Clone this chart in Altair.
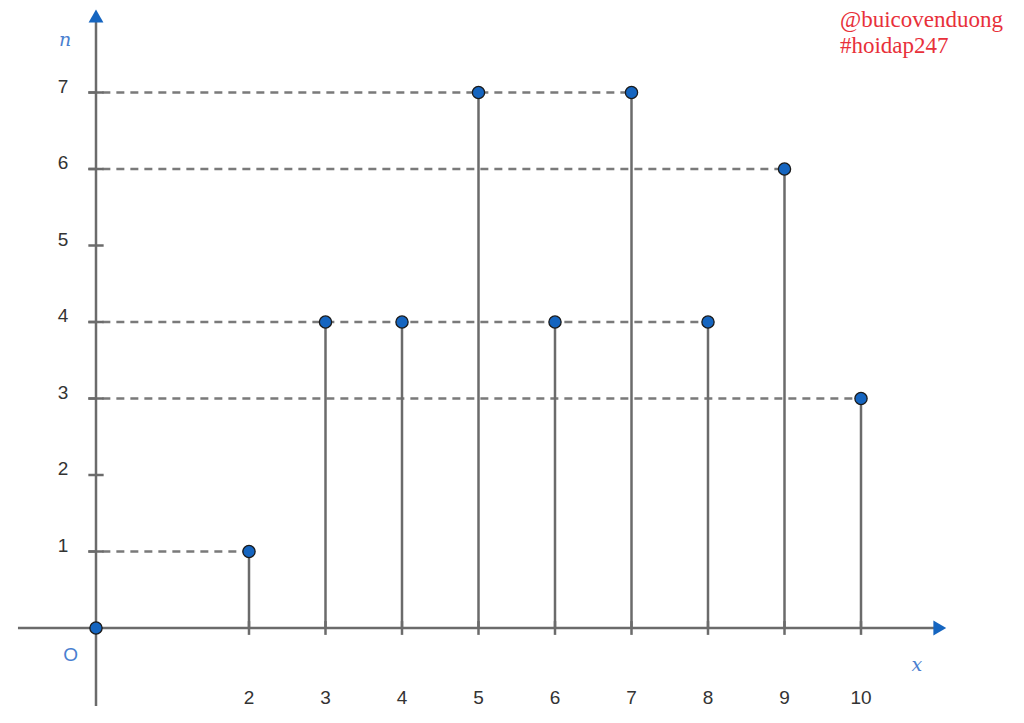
import altair as alt
import pandas as pd

# data
xs = [0, 2, 3, 4, 5, 6, 7, 8, 9, 10]
ns = [0, 1, 4, 4, 7, 4, 7, 4, 6, 3]
x_ticks = [2, 3, 4, 5, 6, 7, 8, 9, 10]
y_ticks = [1, 2, 3, 4, 5, 6, 7]

pts = pd.DataFrame({"x": xs, "n": ns})
# dashed guides: from the n-axis to the farthest point at each level
lv = pts[pts.n > 0].groupby("n", as_index=False)["x"].max()
lv["x0"] = -0.1

stems = pts[pts.n > 0].copy()
stems["z"] = 0

X = alt.Scale(domain=[-88 / 76.5, 920 / 76.5], nice=False, zero=False)
Y = alt.Scale(domain=[-87 / 76.5, 620 / 76.5], nice=False, zero=False)

GRAY = "#6b6b6b"
BLUE = "#1565c0"

dashed = alt.Chart(lv).mark_rule(color="#7a7a7a", strokeWidth=2.5, strokeDash=[8, 6]).encode(
    x=alt.X("x0:Q", scale=X, axis=None), x2="x:Q",
    y=alt.Y("n:Q", scale=Y, axis=None))

stem = alt.Chart(stems).mark_rule(color=GRAY, strokeWidth=2.5).encode(
    x=alt.X("x:Q", scale=X, axis=None),
    y=alt.Y("z:Q", scale=Y, axis=None), y2="n:Q")

axes_df = pd.DataFrame({"x1": [-1.02, 0], "x2": [11.0, 0], "y1": [0, -1.02], "y2": [0, 7.95]})
axes = alt.Chart(axes_df).mark_rule(color=GRAY, strokeWidth=2.5).encode(
    x=alt.X("x1:Q", scale=X, axis=None), x2="x2:Q",
    y=alt.Y("y1:Q", scale=Y, axis=None), y2="y2:Q")

xt = pd.DataFrame({"v": x_ticks, "a": -0.09, "b": 0.09})
xtick = alt.Chart(xt).mark_rule(color=GRAY, strokeWidth=2.5).encode(
    x=alt.X("v:Q", scale=X, axis=None),
    y=alt.Y("a:Q", scale=Y, axis=None), y2="b:Q")
yt = pd.DataFrame({"v": y_ticks, "a": -0.1, "b": 0.1})
ytick = alt.Chart(yt).mark_rule(color=GRAY, strokeWidth=2.5).encode(
    y=alt.Y("v:Q", scale=Y, axis=None),
    x=alt.X("a:Q", scale=X, axis=None), x2="b:Q")

arr_r = alt.Chart(pd.DataFrame({"x": [11.03], "y": [0]})).mark_point(
    shape="triangle-right", filled=True, color=BLUE, size=220, opacity=1).encode(
    x=alt.X("x:Q", scale=X, axis=None), y=alt.Y("y:Q", scale=Y, axis=None))
arr_u = alt.Chart(pd.DataFrame({"x": [0], "y": [8.0]})).mark_point(
    shape="triangle-up", filled=True, color=BLUE, size=220, opacity=1).encode(
    x=alt.X("x:Q", scale=X, axis=None), y=alt.Y("y:Q", scale=Y, axis=None))

dots = alt.Chart(pts).mark_point(filled=True, color=BLUE, stroke="#1a1a1a", strokeWidth=1.3,
                                 size=150, opacity=1).encode(
    x=alt.X("x:Q", scale=X, axis=None), y=alt.Y("n:Q", scale=Y, axis=None))

xl = pd.DataFrame({"v": x_ticks, "t": [str(v) for v in x_ticks], "yy": -0.915})
xlab = alt.Chart(xl).mark_text(font="Liberation Sans", fontSize=19, color="#333333",
                               align="center", baseline="middle").encode(
    x=alt.X("v:Q", scale=X, axis=None), y=alt.Y("yy:Q", scale=Y, axis=None), text="t:N")
yl = pd.DataFrame({"v": y_ticks, "t": [str(v) for v in y_ticks], "xx": -0.43})
ylab = alt.Chart(yl).mark_text(font="Liberation Sans", fontSize=19, color="#333333",
                               align="center", baseline="middle", dy=-6).encode(
    y=alt.Y("v:Q", scale=Y, axis=None), x=alt.X("xx:Q", scale=X, axis=None), text="t:N")

names = pd.DataFrame({"x": [-0.405, 10.73], "y": [7.69, -0.48], "t": ["n", "x"]})
namelab = alt.Chart(names).mark_text(font="DejaVu Serif", fontStyle="italic", fontSize=19,
                                     color="#4a7fd0", align="center", baseline="middle").encode(
    x=alt.X("x:Q", scale=X, axis=None), y=alt.Y("y:Q", scale=Y, axis=None), text="t:N")
olab = alt.Chart(pd.DataFrame({"x": [-0.33], "y": [-0.35], "t": ["O"]})).mark_text(
    font="Liberation Sans", fontSize=19, color="#4a7fd0", align="center", baseline="middle").encode(
    x=alt.X("x:Q", scale=X, axis=None), y=alt.Y("y:Q", scale=Y, axis=None), text="t:N")

wm = pd.DataFrame({"x": [9.725, 9.725], "y": [7.95, 7.61], "t": ["@buicovenduong", "#hoidap247"]})
wmark = alt.Chart(wm).mark_text(font="Liberation Serif", fontSize=23, color="#e8303a",
                                align="left", baseline="middle").encode(
    x=alt.X("x:Q", scale=X, axis=None), y=alt.Y("y:Q", scale=Y, axis=None), text="t:N")

chart = alt.layer(dashed, stem, axes, xtick, ytick, arr_r, arr_u, dots,
                  xlab, ylab, namelab, olab, wmark).properties(
    width=1008, height=707, autosize=alt.AutoSizeParams(type="none"), padding=0,
    background="white").configure_view(stroke=None)

chart.save("out.html", embed_options={"renderer": "svg", "actions": False})
